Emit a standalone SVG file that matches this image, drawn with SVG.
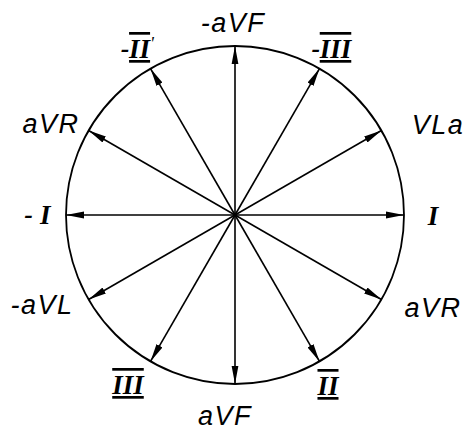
<svg xmlns="http://www.w3.org/2000/svg" width="467" height="431" viewBox="0 0 467 431">
<style>
.lbl{font-family:"Liberation Sans",Arial,sans-serif;font-style:italic;font-size:27px;fill:#000;text-anchor:middle;letter-spacing:1.5px}
.rom{font-family:"Liberation Serif","Times New Roman",serif;font-style:italic;font-weight:bold;font-size:27px;fill:#000;text-anchor:middle}
.bar{text-decoration:underline overline;text-decoration-thickness:3px}
.spoke{stroke:#000;stroke-width:1.6;fill:none;marker-end:url(#ah)}
</style>
<defs>
<marker id="ah" markerUnits="userSpaceOnUse" markerWidth="20" markerHeight="10" refX="18" refY="4" orient="auto">
<path d="M0,0.6 L18,4 L0,7.4 z" fill="#000"/>
</marker>
</defs>
<rect width="467" height="431" fill="#fff"/>
<g id="circle"><circle cx="235" cy="215" r="169" fill="none" stroke="#000" stroke-width="1.8"/></g>
<g id="connectors">
<line class="spoke" x1="235" y1="215" x2="404" y2="215"/>
<line class="spoke" x1="235" y1="215" x2="381.4" y2="130.5"/>
<line class="spoke" x1="235" y1="215" x2="319.5" y2="68.6"/>
<line class="spoke" x1="235" y1="215" x2="235" y2="46"/>
<line class="spoke" x1="235" y1="215" x2="150.5" y2="68.6"/>
<line class="spoke" x1="235" y1="215" x2="88.6" y2="130.5"/>
<line class="spoke" x1="235" y1="215" x2="66" y2="215"/>
<line class="spoke" x1="235" y1="215" x2="88.6" y2="299.5"/>
<line class="spoke" x1="235" y1="215" x2="150.5" y2="361.4"/>
<line class="spoke" x1="235" y1="215" x2="235" y2="384"/>
<line class="spoke" x1="235" y1="215" x2="319.5" y2="361.4"/>
<line class="spoke" x1="235" y1="215" x2="381.4" y2="299.5"/>
</g>
<g id="lbl-maVF"><text class="lbl" x="233" y="32">-aVF</text></g>
<g id="lbl-mIII"><text class="rom" x="331" y="58"><tspan font-weight="normal" font-family="Liberation Sans">-</tspan><tspan class="bar">III</tspan></text></g>
<g id="lbl-VLa"><text class="lbl" x="438" y="134">VLa</text></g>
<g id="lbl-I"><text class="rom" x="433" y="225">I</text></g>
<g id="lbl-aVR2"><text class="lbl" x="433" y="317">aVR</text></g>
<g id="lbl-II"><text class="rom" x="328" y="395"><tspan class="bar">II</tspan></text></g>
<g id="lbl-aVF"><text class="lbl" x="225" y="425">aVF</text></g>
<g id="lbl-III"><text class="rom" x="128" y="394"><tspan class="bar">III</tspan></text></g>
<g id="lbl-maVL"><text class="lbl" x="42" y="314">-aVL</text></g>
<g id="lbl-mI"><text class="rom" x="37" y="224"><tspan font-weight="normal" font-family="Liberation Sans">- </tspan>I</text></g>
<g id="lbl-aVR"><text class="lbl" x="51" y="133">aVR</text></g>
<g id="lbl-mII"><text class="rom" x="137" y="58"><tspan font-weight="normal" font-family="Liberation Sans">-</tspan><tspan class="bar">II</tspan><tspan font-weight="normal" font-size="18" dy="-8">'</tspan></text></g>
</svg>
